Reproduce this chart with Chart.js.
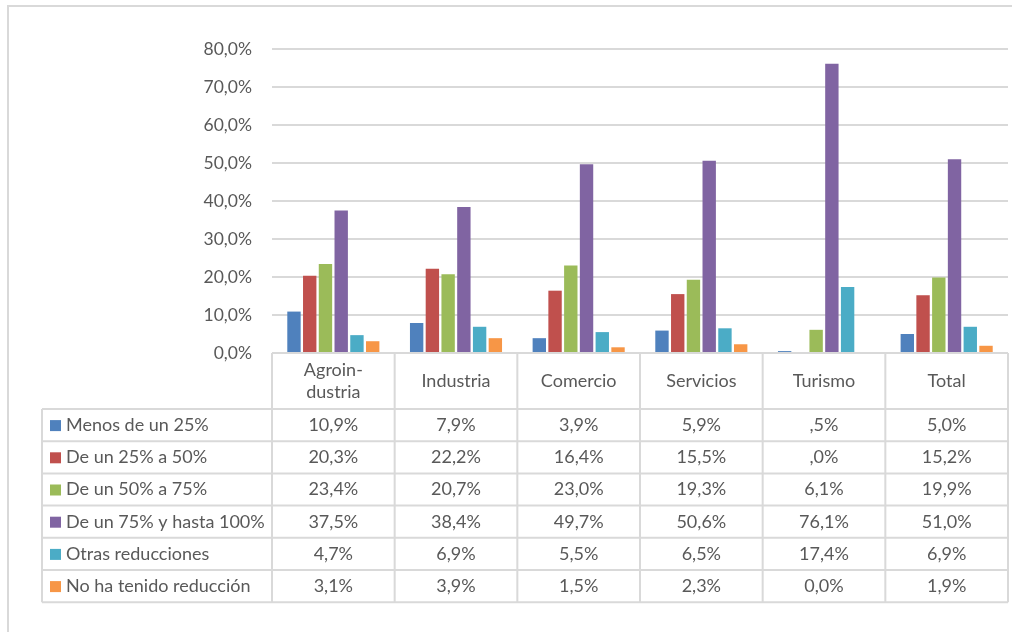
<!DOCTYPE html>
<html>
<head>
<meta charset="utf-8">
<script src="https://cdn.jsdelivr.net/npm/chart.js@4/dist/chart.umd.min.js"></script>
<style>
html,body{margin:0;padding:0;background:#fff;}
#wrap{width:1012px;height:632px;position:relative;}
</style>
</head>
<body>
<div id="wrap"><canvas id="c" width="1012" height="632"></canvas></div>
<script>
// ---- Data ----
const categories = [["Agroin-", "dustria"], "Industria", "Comercio", "Servicios", "Turismo", "Total"];
const seriesNames = ["Menos de un 25%", "De un 25% a 50%", "De un 50% a 75%", "De un 75% y hasta 100%", "Otras reducciones", "No ha tenido reducción"];
const menos25   = [10.9, 7.9, 3.9, 5.9, 0.5, 5.0];
const de25a50   = [20.3, 22.2, 16.4, 15.5, 0.0, 15.2];
const de50a75   = [23.4, 20.7, 23.0, 19.3, 6.1, 19.9];
const de75a100  = [37.5, 38.4, 49.7, 50.6, 76.1, 51.0];
const otras     = [4.7, 6.9, 5.5, 6.5, 17.4, 6.9];
const sinReduc  = [3.1, 3.9, 1.5, 2.3, 0.0, 1.9];
const yTicks    = [0, 10, 20, 30, 40, 50, 60, 70, 80];
// table cell texts as printed in the source table
const tableText = [
  ["10,9%", "7,9%", "3,9%", "5,9%", ",5%", "5,0%"],
  ["20,3%", "22,2%", "16,4%", "15,5%", ",0%", "15,2%"],
  ["23,4%", "20,7%", "23,0%", "19,3%", "6,1%", "19,9%"],
  ["37,5%", "38,4%", "49,7%", "50,6%", "76,1%", "51,0%"],
  ["4,7%", "6,9%", "5,5%", "6,5%", "17,4%", "6,9%"],
  ["3,1%", "3,9%", "1,5%", "2,3%", "0,0%", "1,9%"]
];
const colors = ["#4F81BD", "#C0504D", "#9BBB59", "#8064A2", "#4BACC6", "#F79646"];
const seriesValues = [menos25, de25a50, de50a75, de75a100, otras, sinReduc];

const FONT = "Lato, 'Open Sans', sans-serif";
const TXT = "#595959";
const LINE = "#d9d9d9";

const frameAndTable = {
  id: "frameAndTable",
  beforeDraw(chart) {
    const ctx = chart.ctx;
    ctx.save();
    ctx.fillStyle = "#fff";
    ctx.fillRect(0, 0, chart.width, chart.height);
    ctx.strokeStyle = LINE;
    ctx.lineWidth = 2;
    ctx.strokeRect(8, 6, chart.width + 20, chart.height + 20);
    ctx.restore();
  },
  afterDraw(chart) {
    const ctx = chart.ctx;
    const x = chart.scales.x;
    const area = chart.chartArea;
    const n = categories.length;
    const cw = (x.right - x.left) / n;
    const top = area.bottom;
    const headerH = 56;
    const rowH = 32.2;
    const rowsTop = top + headerH;
    const bottom = rowsTop + rowH * seriesNames.length;
    const legendLeft = 42;
    ctx.save();
    ctx.strokeStyle = LINE;
    ctx.lineWidth = 2;
    ctx.beginPath();
    ctx.moveTo(x.left, top); ctx.lineTo(x.right, top);
    for (let i = 0; i <= n; i++) {
      const px = x.left + i * cw;
      ctx.moveTo(px, top); ctx.lineTo(px, bottom);
    }
    ctx.moveTo(legendLeft, rowsTop); ctx.lineTo(legendLeft, bottom);
    for (let r = 0; r <= seriesNames.length; r++) {
      const py = rowsTop + r * rowH;
      ctx.moveTo(legendLeft, py); ctx.lineTo(x.right, py);
    }
    ctx.stroke();

    ctx.fillStyle = TXT;
    ctx.font = "18px " + FONT;
    ctx.textAlign = "center";
    ctx.textBaseline = "middle";
    categories.forEach((c, i) => {
      const cx = x.getPixelForValue(i);
      const cy = top + headerH / 2;
      if (Array.isArray(c)) {
        const lh = 22;
        c.forEach((line, k) => {
          ctx.fillText(line, cx, cy + (k - (c.length - 1) / 2) * lh);
        });
      } else {
        ctx.fillText(c, cx, cy);
      }
    });
    seriesNames.forEach((name, r) => {
      const cy = rowsTop + r * rowH + rowH / 2;
      ctx.fillStyle = colors[r];
      ctx.fillRect(50, cy - 5, 11, 11);
      ctx.fillStyle = TXT;
      ctx.textAlign = "left";
      ctx.fillText(name, 66, cy);
      ctx.textAlign = "center";
      tableText[r].forEach((t, i) => {
        ctx.fillText(t, x.getPixelForValue(i), cy);
      });
    });
    ctx.restore();
  }
};

new Chart(document.getElementById("c"), {
  type: "bar",
  data: {
    labels: categories,
    datasets: seriesNames.map((name, i) => ({
      label: name,
      data: seriesValues[i],
      backgroundColor: colors[i],
      borderWidth: 0,
      categoryPercentage: 0.77,
      barPercentage: 0.85
    }))
  },
  options: {
    responsive: false,
    animation: false,
    layout: { padding: { top: 49, bottom: 279, right: 4, left: 0 } },
    plugins: { legend: { display: false }, tooltip: { enabled: false }, title: { display: false } },
    scales: {
      x: { display: false },
      y: {
        min: 0, max: 80,
        afterFit(scale) { scale.width = 272; },
        afterBuildTicks(scale) { scale.ticks = yTicks.map(v => ({ value: v })); },
        ticks: {
          padding: 20,
          color: TXT,
          font: { family: FONT, size: 17.5 },
          callback: v => v.toFixed(1).replace(".", ",") + "%"
        },
        grid: { color: LINE, lineWidth: 2, drawTicks: false },
        border: { display: false }
      }
    }
  },
  plugins: [frameAndTable]
});
</script>
</body>
</html>
